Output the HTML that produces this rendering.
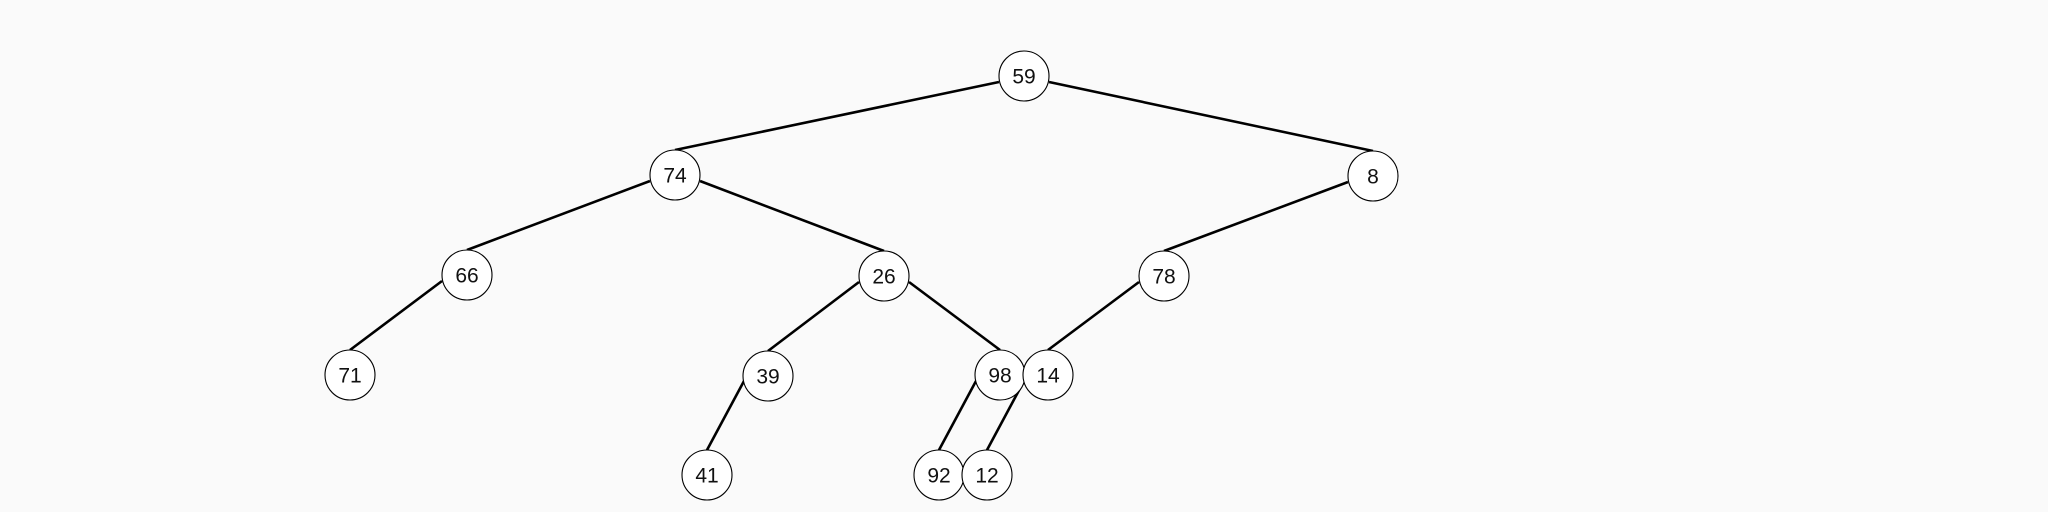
<!DOCTYPE html>
<html><head><meta charset="utf-8"><style>
html,body{margin:0;padding:0;background:#fafafa;}
svg{display:block;}
text{font-family:"Liberation Sans",sans-serif;font-size:21px;fill:#111;text-anchor:middle;dominant-baseline:central;}
</style></head><body>
<svg width="2048" height="512" viewBox="0 0 2048 512">
<g stroke="#000" stroke-width="2.6">
<line x1="999" y1="82" x2="675" y2="150"/>
<line x1="1049" y1="82" x2="1373" y2="151"/>
<line x1="650" y1="181" x2="467" y2="250"/>
<line x1="700" y1="181" x2="884" y2="251"/>
<line x1="1348" y1="182" x2="1164" y2="251"/>
<line x1="442" y1="281" x2="350" y2="350"/>
<line x1="859" y1="282" x2="768" y2="351"/>
<line x1="909" y1="282" x2="1000" y2="350"/>
<line x1="1139" y1="282" x2="1048" y2="350"/>
<line x1="744" y1="381" x2="707" y2="450"/>
<line x1="976" y1="381" x2="939" y2="450"/>
<line x1="1024" y1="381" x2="987" y2="450"/>
</g>
<g fill="#fff" stroke="#000" stroke-width="1.1">
<circle cx="1024" cy="76" r="25"/>
<circle cx="675" cy="175" r="25"/>
<circle cx="1373" cy="176" r="25"/>
<circle cx="467" cy="275" r="25"/>
<circle cx="884" cy="276" r="25"/>
<circle cx="1164" cy="276" r="25"/>
<circle cx="350" cy="375" r="25"/>
<circle cx="768" cy="376" r="25"/>
<circle cx="1000" cy="375" r="25"/>
<circle cx="1048" cy="375" r="25"/>
<circle cx="707" cy="475" r="25"/>
<circle cx="939" cy="475" r="25"/>
<circle cx="987" cy="475" r="25"/>
</g>
<text x="1024" y="77">59</text>
<text x="675" y="176">74</text>
<text x="1373" y="177">8</text>
<text x="467" y="276">66</text>
<text x="884" y="277">26</text>
<text x="1164" y="277">78</text>
<text x="350" y="376">71</text>
<text x="768" y="377">39</text>
<text x="1000" y="376">98</text>
<text x="1048" y="376">14</text>
<text x="707" y="476">41</text>
<text x="939" y="476">92</text>
<text x="987" y="476">12</text>
</svg>
</body></html>
